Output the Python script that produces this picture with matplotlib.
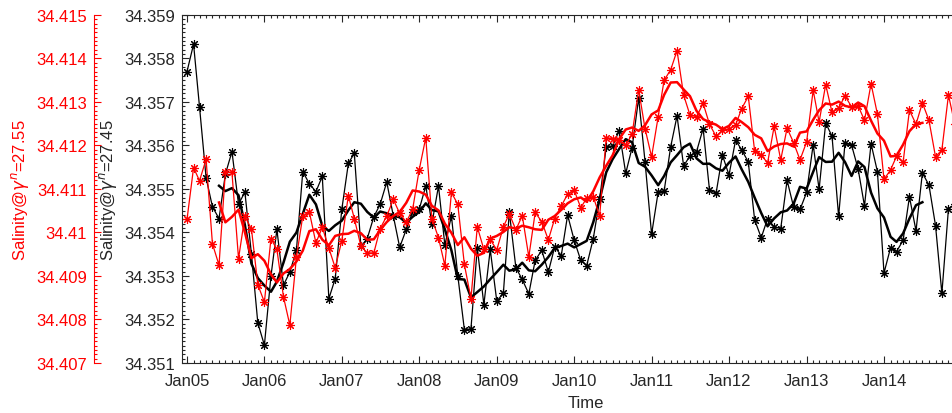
import matplotlib
matplotlib.use("Agg")
import matplotlib.pyplot as plt
import matplotlib.dates as mdates
from matplotlib.ticker import MultipleLocator, FuncFormatter, FixedLocator
import numpy as np
import pandas as pd
from datetime import datetime

plt.rcParams['font.family'] = ['Liberation Sans', 'DejaVu Sans']
plt.rcParams['mathtext.fontset'] = 'dejavusans'

# ---------------- data (monthly, starting Jan 2005) ----------------
start_month = '2005-01-01'
tick_years = list(range(2005, 2015))

sal_2745 = [
    34.35770, 34.35833, 34.35689, 34.35526, 34.35459, 34.35432, 34.35534, 34.35586, 34.35465, 34.35493,
    34.35350, 34.35192, 34.35141, 34.35300, 34.35407, 34.35279, 34.35309, 34.35359, 34.35540, 34.35512,
    34.35494, 34.35529, 34.35248, 34.35294, 34.35453, 34.35559, 34.35582, 34.35368, 34.35386, 34.35436,
    34.35465, 34.35516, 34.35438, 34.35366, 34.35407, 34.35448, 34.35453, 34.35507, 34.35420, 34.35507,
    34.35371, 34.35438, 34.35301, 34.35177, 34.35178, 34.35365, 34.35234, 34.35361, 34.35242, 34.35261,
    34.35447, 34.35319, 34.35292, 34.35259, 34.35336, 34.35359, 34.35309, 34.35367, 34.35347, 34.35440,
    34.35382, 34.35336, 34.35324, 34.35386, 34.35476, 34.35597, 34.35599, 34.35634, 34.35536, 34.35595,
    34.35709, 34.35563, 34.35396, 34.35493, 34.35495, 34.35597, 34.35668, 34.35553, 34.35576, 34.35586,
    34.35639, 34.35498, 34.35490, 34.35578, 34.35532, 34.35612, 34.35590, 34.35562, 34.35429, 34.35388,
    34.35432, 34.35413, 34.35409, 34.35520, 34.35458, 34.35453, 34.35492, 34.35602, 34.35499, 34.35652,
    34.35621, 34.35437, 34.35605, 34.35601, 34.35546, 34.35461, 34.35604, 34.35540, 34.35307, 34.35365,
    34.35356, 34.35382, 34.35482, 34.35404, 34.35537, 34.35509, 34.35416, 34.35260, 34.35455, 34.35465,
]

sal_2755 = [
    34.41030, 34.41149, 34.41119, 34.41168, 34.40974, 34.40925, 34.41140, 34.41138, 34.40940, 34.41037,
    34.41008, 34.40880, 34.40840, 34.40986, 34.40961, 34.40852, 34.40787, 34.40943, 34.41038, 34.41047,
    34.40976, 34.41012, 34.40964, 34.40919, 34.40981, 34.41085, 34.41032, 34.40969, 34.40953, 34.40953,
    34.41009, 34.41038, 34.41076, 34.41044, 34.41024, 34.41053, 34.41144, 34.41218, 34.41032, 34.40988,
    34.40924, 34.41092, 34.41065, 34.40927, 34.40848, 34.41013, 34.40961, 34.40984, 34.40960, 34.41013,
    34.41043, 34.41006, 34.41039, 34.40944, 34.41046, 34.41025, 34.40983, 34.41032, 34.41061, 34.41088,
    34.41097, 34.41057, 34.41079, 34.41082, 34.41038, 34.41218, 34.41216, 34.41213, 34.41201, 34.41226,
    34.41328, 34.41239, 34.41174, 34.41266, 34.41350, 34.41374, 34.41418, 34.41316, 34.41270, 34.41266,
    34.41297, 34.41249, 34.41221, 34.41235, 34.41237, 34.41247, 34.41285, 34.41313, 34.41187, 34.41178,
    34.41160, 34.41244, 34.41167, 34.41240, 34.41206, 34.41167, 34.41208, 34.41327, 34.41254, 34.41340,
    34.41276, 34.41286, 34.41314, 34.41289, 34.41291, 34.41258, 34.41342, 34.41272, 34.41122, 34.41144,
    34.41175, 34.41161, 34.41281, 34.41249, 34.41298, 34.41258, 34.41174, 34.41190, 34.41316, 34.41249,
]

smooth_window = 5        # running-mean length (months)
smooth_first, smooth_last = 5, 114   # range where the smoothed curve is shown

black_ylim = (34.351, 34.359)
red_ylim = (34.407, 34.415)
black_label = r'Salinity@$\gamma^{n}$=27.45'
red_label = r'Salinity@$\gamma^{n}$=27.55'
xlabel = 'Time'

# ---------------- derived ----------------
dates = pd.date_range(start_month, periods=len(sal_2745), freq='MS')
s_black = pd.Series(sal_2745, index=dates)
s_red = pd.Series(sal_2755, index=dates)


def smooth(s):
    m = s.rolling(smooth_window, center=True).mean()
    idx = np.arange(len(m))
    m[(idx < smooth_first) | (idx > smooth_last)] = np.nan
    return m


sm_black = smooth(s_black)
sm_red = smooth(s_red)

# ---------------- figure ----------------
W, H = 952, 414
fig = plt.figure(figsize=(W / 100, H / 100), dpi=100)
ax_left_px, ax_right_px = 182, 990
ax_top_px, ax_bot_px = 16, 364
ax = fig.add_axes([ax_left_px / W, 1 - ax_bot_px / H,
                   (ax_right_px - ax_left_px) / W, (ax_bot_px - ax_top_px) / H])

px_per_day = 77.45 / 365.25
x_jan05 = mdates.date2num(datetime(2005, 1, 1))
jan05_px = 187
ax.set_xlim(x_jan05 - (jan05_px - ax_left_px) / px_per_day,
            x_jan05 + (ax_right_px - jan05_px) / px_per_day)

dark = '#262626'
fs = 12
marker = (8, 2, 0)

ax.plot(s_black.index, s_black.values, color='black', lw=0.9,
        marker=marker, ms=6.5, mew=0.8, zorder=3)
ax.plot(sm_black.index, sm_black.values, color='black', lw=1.8, zorder=4)
ax.set_ylim(*black_ylim)

ax2 = ax.twinx()
ax2.plot(s_red.index, s_red.values, color='red', lw=0.9,
         marker=marker, ms=6.5, mew=0.8, zorder=3)
ax2.plot(sm_red.index, sm_red.values, color='red', lw=1.8, zorder=4)
ax2.set_ylim(*red_ylim)
ax2.set_xlim(ax.get_xlim())

fmt = FuncFormatter(lambda v, p: f'{round(v, 6):g}')

# black axis
ax.yaxis.set_major_locator(MultipleLocator(0.001))
ax.yaxis.set_minor_locator(MultipleLocator(0.0001))
ax.yaxis.set_major_formatter(fmt)
ax.xaxis.set_major_locator(FixedLocator(
    [mdates.date2num(datetime(y, 1, 1)) for y in tick_years]))
ax.xaxis.set_minor_locator(mdates.MonthLocator())
ax.xaxis.set_major_formatter(mdates.DateFormatter('Jan%y'))
ax.tick_params(axis='both', which='both', direction='in', top=True, right=False,
               colors=dark, labelsize=fs, width=0.8)
ax.tick_params(axis='both', which='major', length=5)
ax.tick_params(axis='both', which='minor', length=2.5)
ax.tick_params(axis='y', pad=5)
ax.tick_params(axis='x', pad=7)
for sp in ax.spines.values():
    sp.set_color(dark)
    sp.set_linewidth(0.8)
ax.spines['right'].set_visible(False)
ax.set_ylabel(black_label, fontsize=fs, color=dark, labelpad=4)
ax.set_xlabel(xlabel, fontsize=fs, color=dark, labelpad=5)

# red axis on the far left
ax2.spines['right'].set_visible(False)
ax2.spines['top'].set_visible(False)
ax2.spines['bottom'].set_visible(False)
ax2.spines['left'].set_visible(True)
ax2.spines['left'].set_position(('outward', (ax_left_px - 94) * 72 / 100))
ax2.spines['left'].set_color('red')
ax2.spines['left'].set_linewidth(0.8)
ax2.yaxis.set_label_position('left')
ax2.yaxis.set_ticks_position('left')
ax2.yaxis.set_major_locator(MultipleLocator(0.001))
ax2.yaxis.set_minor_locator(MultipleLocator(0.0001))
ax2.yaxis.set_major_formatter(fmt)
ax2.tick_params(axis='y', which='both', direction='in', colors='red',
                labelsize=fs, width=0.8, pad=5)
ax2.tick_params(axis='y', which='major', length=5)
ax2.tick_params(axis='y', which='minor', length=2.5)
ax2.set_ylabel(red_label, fontsize=fs, color='red', labelpad=4)

fig.savefig('out.png', dpi=100)
